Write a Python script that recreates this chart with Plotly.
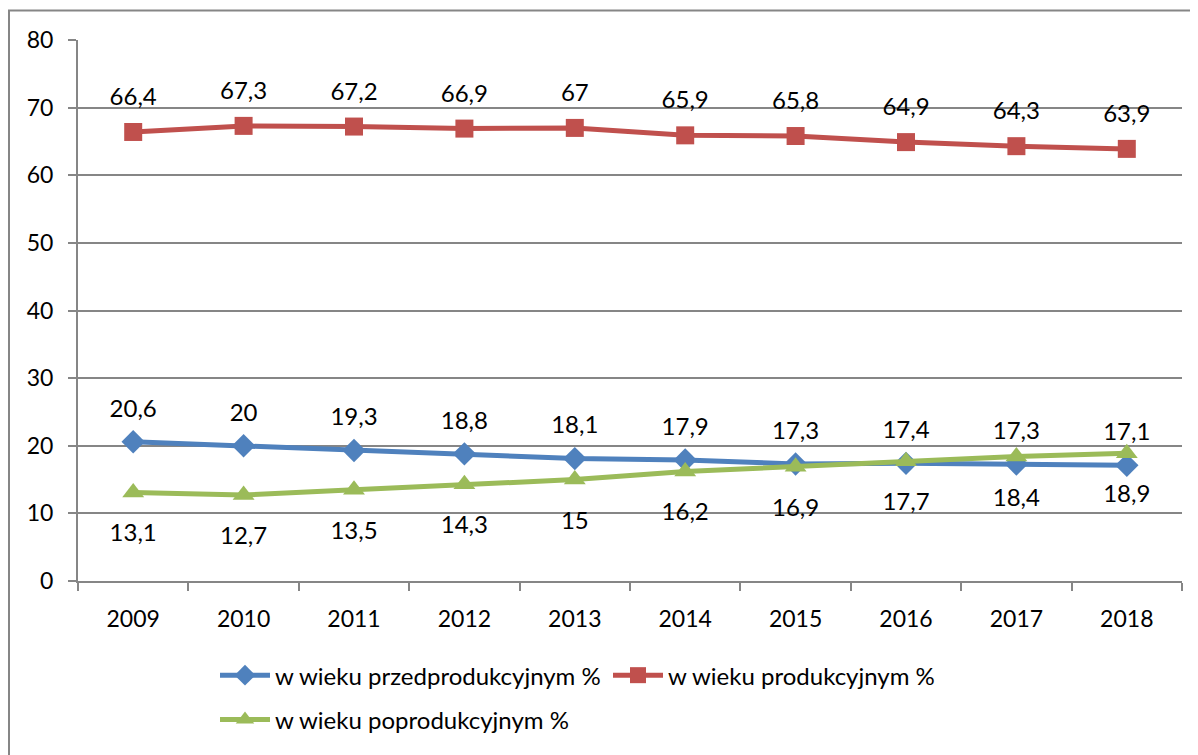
import plotly.graph_objects as go

years = ["2009", "2010", "2011", "2012", "2013", "2014", "2015", "2016", "2017", "2018"]
przed = [20.6, 20.0, 19.3, 18.8, 18.1, 17.9, 17.3, 17.4, 17.3, 17.1]
prod = [66.4, 67.3, 67.2, 66.9, 67.0, 65.9, 65.8, 64.9, 64.3, 63.9]
popr = [13.1, 12.7, 13.5, 14.3, 15.0, 16.2, 16.9, 17.7, 18.4, 18.9]
names = ["w wieku przedprodukcyjnym %", "w wieku produkcyjnym %", "w wieku poprodukcyjnym %"]
colors = ["#4F81BD", "#C0504D", "#9BBB59"]

def lbl(v):
    return ("%g" % v).replace(".", ",")

FONT = "Lato, Carlito, Calibri, sans-serif"
TICKFS = 23
LBLFS = 24
LEGFS = 24
GRID = "#868686"

# body has 8px default margin -> figure drawn at offset (8,8)
W, H = 1190, 747
L, T, PW, PH = 70, 32, 1104, 548
R = W - L - PW
B = H - T - PH

fig = go.Figure()
fig.add_trace(go.Scatter(x=years, y=przed, name=names[0], mode="lines+markers",
                         line=dict(color=colors[0], width=5),
                         marker=dict(symbol="diamond", size=18, color=colors[0]),
                         legend="legend", hoverinfo="skip"))
fig.add_trace(go.Scatter(x=years, y=prod, name=names[1], mode="lines+markers",
                         line=dict(color=colors[1], width=5),
                         marker=dict(symbol="square", size=18, color=colors[1]),
                         legend="legend", hoverinfo="skip"))
fig.add_trace(go.Scatter(x=years, y=popr, name=names[2], mode="lines+markers",
                         line=dict(color=colors[2], width=5),
                         marker=dict(symbol="triangle-up", size=19, color=colors[2]),
                         legend="legend2", hoverinfo="skip"))

# data labels: transparent markers used to push the text away from the points
for ser, pos, pad in ((przed, "top center", 29), (prod, "top center", 32), (popr, "bottom center", 48)):
    fig.add_trace(go.Scatter(x=years, y=ser, mode="markers+text", showlegend=False,
                             hoverinfo="skip", text=[lbl(v) for v in ser],
                             textposition=pos,
                             textfont=dict(size=LBLFS, color="black", family=FONT),
                             marker=dict(size=pad, color="rgba(0,0,0,0)")))

fig.update_layout(
    width=W, height=H,
    margin=dict(l=L, r=R, t=T, b=B),
    paper_bgcolor="white", plot_bgcolor="white",
    font=dict(family=FONT, size=TICKFS, color="black"),
    xaxis=dict(type="category", range=[-0.5, 9.5], tickson="boundaries",
               ticks="outside", ticklen=8, tickcolor=GRID, tickwidth=2,
               showline=True, linecolor=GRID, linewidth=2,
               showgrid=False, tickfont=dict(size=TICKFS), ticklabelstandoff=16),
    yaxis=dict(range=[0, 80], dtick=10, ticks="outside", ticklen=8,
               tickcolor=GRID, tickwidth=2, showline=True, linecolor=GRID,
               linewidth=2, showgrid=True, gridcolor=GRID, gridwidth=2,
               zeroline=False, tickfont=dict(size=TICKFS), ticklabelstandoff=10),
    legend=dict(orientation="h", x=(207 - L) / PW, xanchor="left",
                y=-(653 - (T + PH)) / PH, yanchor="top",
                font=dict(size=LEGFS), itemwidth=50, entrywidth=328),
    legend2=dict(orientation="h", x=(207 - L) / PW, xanchor="left",
                 y=-(698 - (T + PH)) / PH, yanchor="top",
                 font=dict(size=LEGFS), itemwidth=50),
    showlegend=True,
)
fig.add_shape(type="rect", xref="paper", yref="paper",
              x0=(1 - L) / PW, x1=(1240 - L) / PW,
              y0=-0.5, y1=1 + (T - 2) / PH,
              line=dict(color=GRID, width=2), layer="below")
fig.write_html("out.html")
